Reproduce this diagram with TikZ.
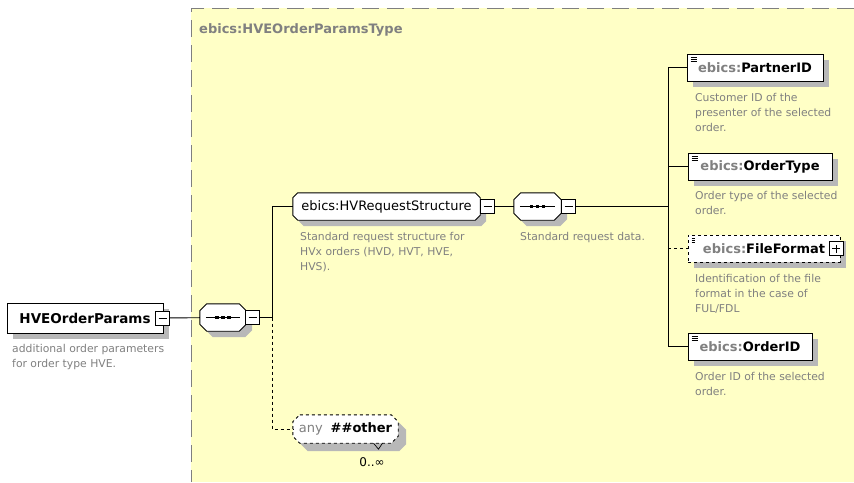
\documentclass[tikz,border=0pt]{standalone}
\usepackage{fontspec}
\setmainfont{DejaVu Sans}
\usetikzlibrary{shadows,backgrounds}
\definecolor{bgyellow}{HTML}{FFFFC6}
\definecolor{descgray}{HTML}{808080}
\definecolor{shadowgray}{HTML}{B8B8B8}
\definecolor{bordergray}{HTML}{7F7F7F}
\newcommand\octpath[2]{([xshift=#2]#1.north west) -- ([xshift=-#2]#1.north east) -- ([yshift=-#2]#1.north east) -- ([yshift=#2]#1.south east) -- ([xshift=-#2]#1.south east) -- ([xshift=#2]#1.south west) -- ([yshift=#2]#1.south west) -- ([yshift=-#2]#1.north west) -- cycle}
\newcommand\octshape[4]{%
  \begin{pgfonlayer}{background}
  \fill[shadowgray, transform canvas={xshift=#4pt, yshift=-#4pt}] \octpath{#1}{#2};
  \draw[fill=white, line width=0.9pt, #3] \octpath{#1}{#2};
  \end{pgfonlayer}}
\tikzset{
  shadowed/.style={drop shadow={shadow xshift=6pt, shadow yshift=-6pt, fill=shadowgray, opacity=1}},
  iconlines/.style={path picture={
      \foreach \dy in {3,5,7}{\draw[line width=0.7pt] ([xshift=3.5pt,yshift=-\dy pt]path picture bounding box.north west) -- ++(6pt,0pt);}
  }},
  elembox/.style={draw, fill=white, line width=0.9pt, rectangle, inner sep=0pt, shadowed, minimum height=27pt,
      font=\fontsize{13}{15}\selectfont\bfseries, iconlines},
  rootbox/.style={draw, fill=white, line width=0.9pt, rectangle, inner sep=0pt, shadowed, minimum height=30pt,
      font=\fontsize{13.5}{15}\selectfont\bfseries},
  octnode/.style={rectangle, inner sep=0pt, minimum height=27pt, font=\fontsize{13}{15}\selectfont},
  pmbox/.style={draw, fill=white, line width=0.8pt, rectangle, inner sep=0pt, minimum size=14pt},
  minusbox/.style={pmbox, path picture={
      \draw[line width=0.8pt] ([xshift=3pt]path picture bounding box.west) -- ([xshift=-3pt]path picture bounding box.east);}},
  plusbox/.style={pmbox, path picture={
      \draw[line width=0.8pt] ([xshift=3pt]path picture bounding box.west) -- ([xshift=-3pt]path picture bounding box.east);
      \draw[line width=0.8pt] ([yshift=3pt]path picture bounding box.south) -- ([yshift=-3pt]path picture bounding box.north);}},
  desc/.style={anchor=north west, inner sep=0pt, align=left, text=descgray, font=\fontsize{10.8}{15}\selectfont},
  conn/.style={line width=0.9pt},
  seqline/.style={line width=0.9pt},
}
\newcommand\seqdots[1]{%
  \draw[seqline] ([xshift=6pt]#1.west) -- ([xshift=-6pt]#1.east);
  \foreach \dx in {-6,0,6}{\fill ([xshift=\dx pt]#1.center) +(-1.6,-1.6) rectangle +(1.6,1.6);}}
\begin{document}
\begin{tikzpicture}[x=1pt,y=-1pt]
\useasboundingbox (0,0) rectangle (854,482);
\begin{pgfonlayer}{background}
\fill[bgyellow] (191,8) rectangle (854,482);
\draw[bordergray, line width=1pt, dash pattern=on 17pt off 8pt] (854,8) -- (191,8) -- (191,482);
\end{pgfonlayer}
\node[anchor=base west, inner sep=0pt, text=descgray, font=\fontsize{13}{15}\selectfont\bfseries] (title) at (199,33) {ebics:HVEOrderParamsType};

% root
\node[rootbox, minimum width=156pt] (hve) at (85,318) {HVEOrderParams};
\node[minusbox] (hvem) at (162.5,318) {};
\node[desc] (hvedesc) at (12,344) {additional order parameters\\for order type HVE.};

% sequence 1
\node[octnode, minimum width=46pt] (seq1) at (223,317.5) {};
\octshape{seq1}{7pt}{}{6}
\seqdots{seq1}
\node[minusbox] (seq1m) at (252.5,317.5) {};
\coordinate (j1) at (272,317.5);

% HVRequestStructure
\node[octnode, minimum width=187pt] (hvreq) at (386.5,206.5) {ebics:HVRequestStructure};
\octshape{hvreq}{5pt}{}{6}
\node[minusbox] (hvreqm) at (487.5,206.5) {};
\node[desc] (hvreqdesc) at (300,232) {Standard request structure for\\HVx orders (HVD, HVT, HVE,\\HVS).};

% sequence 2
\node[octnode, minimum width=47pt] (seq2) at (537.5,206.5) {};
\octshape{seq2}{7pt}{}{6}
\seqdots{seq2}
\node[minusbox] (seq2m) at (568.5,206.5) {};
\node[desc] (seq2desc) at (520,232) {Standard request data.};
\coordinate (j2) at (668,206.5);

% elements
\node[elembox, minimum width=136pt] (partner) at (755,67.5) {\textcolor{descgray}{ebics:}PartnerID};
\node[desc] (partnerdesc) at (695,93) {Customer ID of the\\presenter of the selected\\order.};
\node[elembox, minimum width=144pt] (otype) at (760,166.5) {\textcolor{descgray}{ebics:}OrderType};
\node[desc] (otypedesc) at (695,191) {Order type of the selected\\order.};
\node[elembox, dashed, minimum width=152pt] (ffmt) at (764,248.5) {\textcolor{descgray}{ebics:}FileFormat\hspace{14pt}};
\node[plusbox] (ffmtp) at (836,248.5) {};
\node[desc] (ffmtdesc) at (695,274) {Identification of the file\\format in the case of\\FUL/FDL};
\node[elembox, minimum width=124pt] (oid) at (750,346.5) {\textcolor{descgray}{ebics:}OrderID};
\node[desc] (oiddesc) at (695,372) {Order ID of the selected\\order.};

% any
\node[octnode, minimum width=105pt, minimum height=28pt] (any) at (345.5,429)
      {\textcolor{descgray}{any}\hspace{8pt}\textbf{\#\#other}};
\octshape{any}{7pt}{dashed}{8}
\node[anchor=base, inner sep=0pt, font=\fontsize{12}{14}\selectfont] (anycard) at (372,466) {0..∞};
\draw[line width=0.7pt] ([xshift=28pt]any.south) -- ++(5,6) -- ++(4,-6);

% connectors
\draw[conn] (hvem) -- (seq1);
\draw[conn] (seq1m) -- (j1) |- (hvreq);
\draw[conn, dashed] (j1) |- (any);
\draw[conn] (hvreqm) -- (seq2);
\draw[conn] (seq2m) -- (j2);
\draw[conn] (j2) |- (partner);
\draw[conn] (j2) |- (otype);
\draw[conn] (j2) |- (oid);
\draw[conn, dashed] (j2) |- (ffmt);
\end{tikzpicture}
\end{document}
